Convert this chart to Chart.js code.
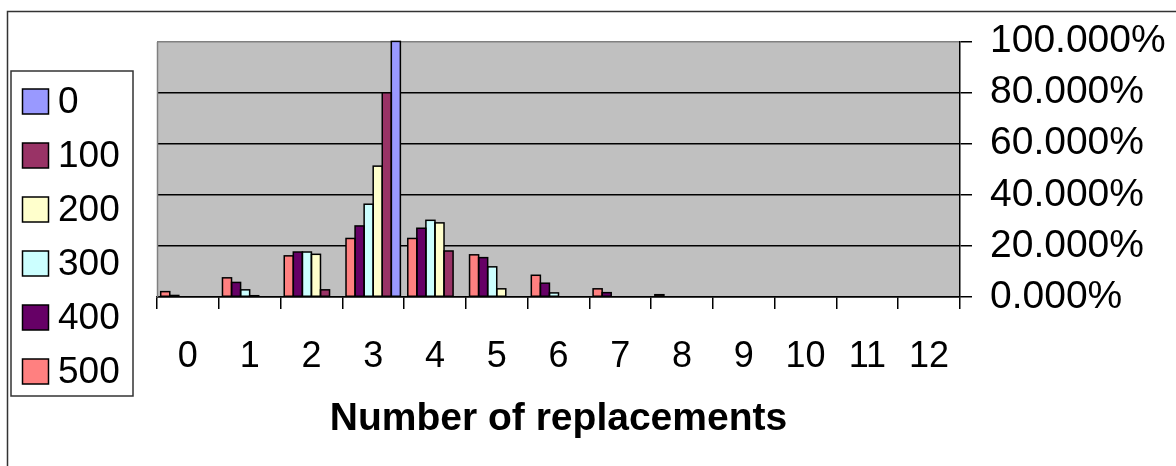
<!DOCTYPE html>
<html>
<head>
<meta charset="utf-8">
<title>Number of replacements</title>
<script src="https://cdn.jsdelivr.net/npm/chart.js@4/dist/chart.umd.min.js"></script>
<style>
  html, body { margin: 0; padding: 0; background: #ffffff; }
  #wrap { width: 1176px; height: 466px; position: relative; }
</style>
</head>
<body>
<div id="wrap"><canvas id="chart"></canvas></div>
<script>
// Categories on the x axis: number of replacements
const categories = ['0', '1', '2', '3', '4', '5', '6', '7', '8', '9', '10', '11', '12'];

// Share of runs (percent) per category, one array per series
const series0   = [0,   0,   0,    100,  0,    0,    0,   0,   0,   0, 0, 0, 0];
const series100 = [0,   0,   2.8,  79.9, 18.0, 0,    0,   0,   0,   0, 0, 0, 0];
const series200 = [0,   0.5, 16.7, 51.2, 29.0, 3.2,  0,   0,   0,   0, 0, 0, 0];
const series300 = [0,   2.8, 17.6, 36.3, 30.0, 11.8, 1.6, 0,   0,   0, 0, 0, 0];
const series400 = [0.6, 5.7, 17.6, 27.8, 26.9, 15.4, 5.4, 1.7, 0,   0, 0, 0, 0];
const series500 = [2.1, 7.5, 16.1, 22.9, 22.9, 16.5, 8.5, 3.2, 0.9, 0, 0, 0, 0];

// Series names (legend order) and their fill colours
const seriesNames  = ['0', '100', '200', '300', '400', '500'];
const seriesValues = [series0, series100, series200, series300, series400, series500];
const seriesColors = ['#9999FF', '#993366', '#FFFFCC', '#CCFFFF', '#660066', '#FF8080'];

// Right-hand value axis ticks (percent)
const yTickValues = [0, 20, 40, 60, 80, 100];

const FONT = 'Arial, "Liberation Sans", sans-serif';

// Bars are laid out with the last series on the left of each group
const datasets = seriesNames.map((name, i) => ({
  label: name,
  data: seriesValues[i],
  backgroundColor: seriesColors[i],
  borderWidth: 0,
  legendIndex: i
})).reverse();

const framePlugin = {
  id: 'frame',
  beforeDraw(chart) {
    const { ctx, chartArea: a, width, height } = chart;
    ctx.save();
    ctx.fillStyle = '#ffffff';
    ctx.fillRect(0, 0, width, height);
    // outer chart border
    ctx.strokeStyle = '#333333';
    ctx.lineWidth = 1.5;
    ctx.strokeRect(7.5, 11.5, width + 20, height + 20);
    // plot area fill
    ctx.fillStyle = '#C0C0C0';
    ctx.fillRect(a.left, a.top, a.right - a.left, a.bottom - a.top);
    ctx.restore();
  },
  beforeDatasetsDraw(chart) {
    const { ctx, chartArea: a } = chart;
    ctx.save();
    ctx.strokeStyle = '#808080';
    ctx.lineWidth = 1.5;
    ctx.beginPath();
    ctx.moveTo(a.left + 0.5, a.bottom);
    ctx.lineTo(a.left + 0.5, a.top + 0.5);
    ctx.stroke();
    ctx.restore();
  },
  afterDatasetsDraw(chart) {
    // black outline around every non-empty bar, kept even for very short bars
    const { ctx } = chart;
    ctx.save();
    ctx.strokeStyle = '#000000';
    ctx.lineWidth = 1.5;
    chart.data.datasets.forEach((ds, di) => {
      const meta = chart.getDatasetMeta(di);
      meta.data.forEach((bar, j) => {
        if (!(ds.data[j] > 0)) return;
        const { x, y, base, width } = bar.getProps(['x', 'y', 'base', 'width'], true);
        ctx.strokeRect(x - width / 2, y, width, base - y);
      });
    });
    ctx.restore();
  },
  afterDraw(chart) {
    // boxed legend on the left, listed from the first series down
    const { ctx } = chart;
    const ordered = chart.data.datasets.slice().sort((p, q) => p.legendIndex - q.legendIndex);
    ctx.save();
    ctx.fillStyle = '#ffffff';
    ctx.fillRect(11, 71, 122, 325);
    ctx.strokeStyle = '#333333';
    ctx.lineWidth = 1.5;
    ctx.strokeRect(11, 71, 122, 325);
    ctx.font = '37px ' + FONT;
    ctx.textBaseline = 'middle';
    ctx.textAlign = 'left';
    ordered.forEach((ds, i) => {
      const cy = 101.5 + i * 54;
      ctx.fillStyle = ds.backgroundColor;
      ctx.fillRect(22.5, cy - 12.5, 26, 25);
      ctx.strokeStyle = '#000000';
      ctx.lineWidth = 1.5;
      ctx.strokeRect(22.5, cy - 12.5, 26, 25);
      ctx.fillStyle = '#000000';
      ctx.fillText(ds.label, 58, cy + 1);
    });
    ctx.restore();
  }
};

new Chart(document.getElementById('chart'), {
  type: 'bar',
  data: { labels: categories, datasets },
  plugins: [framePlugin],
  options: {
    responsive: true,
    maintainAspectRatio: false,
    animation: false,
    devicePixelRatio: 1,
    layout: { padding: { left: 157, top: 39, right: 0, bottom: 0 } },
    datasets: { bar: { categoryPercentage: 0.88, barPercentage: 1.0 } },
    plugins: {
      legend: { display: false },
      tooltip: { enabled: false },
      title: { display: false }
    },
    scales: {
      x: {
        offset: true,
        grid: {
          offset: true,
          drawOnChartArea: false,
          drawTicks: true,
          tickLength: 12,
          color: '#000000',
          lineWidth: 1.5
        },
        border: { display: true, color: '#000000', width: 1.5 },
        ticks: {
          color: '#000000',
          font: { family: FONT, size: 36 },
          padding: 26,
          maxRotation: 0,
          minRotation: 0,
          autoSkip: false
        },
        title: {
          display: true,
          text: 'Number of replacements',
          color: '#000000',
          font: { family: FONT, size: 39, weight: 'bold' },
          padding: { top: 0, bottom: 23 }
        },
        afterFit(scale) { scale.height = 169; }
      },
      y: {
        position: 'right',
        min: 0,
        max: 100,
        afterBuildTicks(scale) {
          scale.ticks = yTickValues.map(v => ({ value: v }));
        },
        grid: {
          drawOnChartArea: true,
          drawTicks: true,
          tickLength: 12,
          lineWidth: 1.5,
          color: (c) => (c.tick && c.tick.value === 100 ? '#808080' : '#000000'),
          tickColor: '#000000'
        },
        border: { display: true, color: '#000000', width: 1.5 },
        ticks: {
          color: '#000000',
          font: { family: FONT, size: 39 },
          padding: 18,
          callback: (v) => Number(v).toFixed(3) + '%'
        },
        afterFit(scale) { scale.width = 216; }
      }
    }
  }
});
</script>
</body>
</html>
